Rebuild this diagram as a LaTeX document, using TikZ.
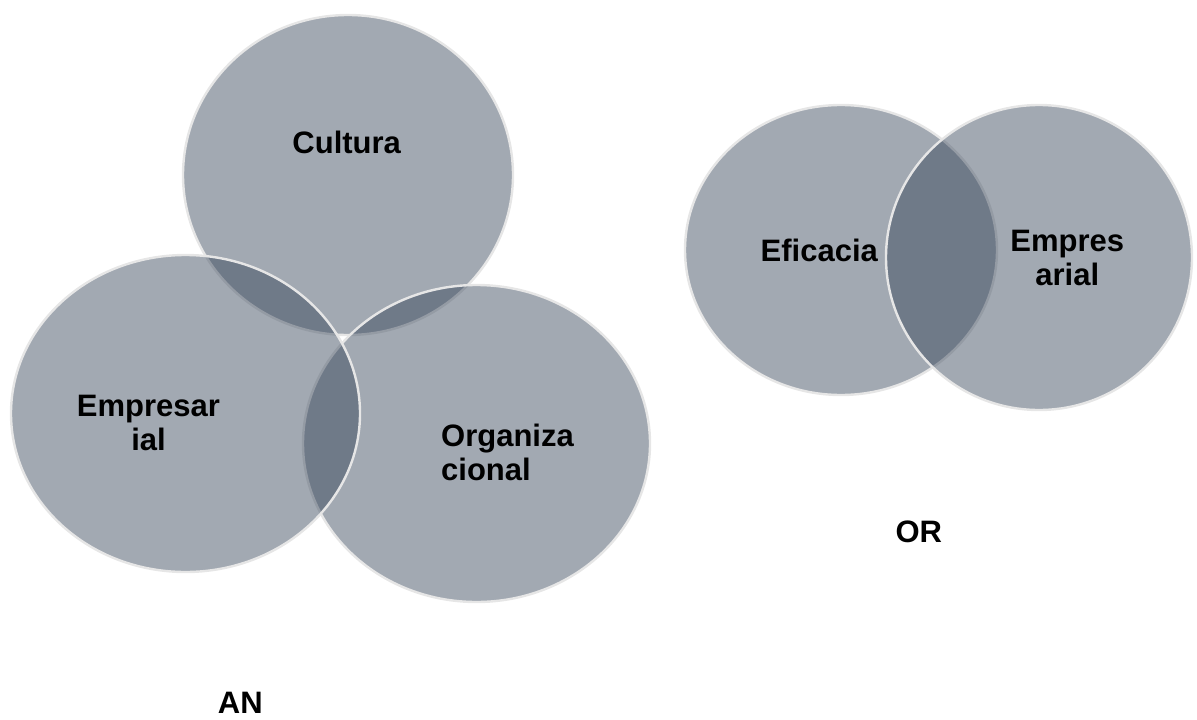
\documentclass[tikz,border=0pt]{standalone}
\usepackage{fontspec}
\setmainfont{Liberation Sans}
\begin{document}
\definecolor{venn}{HTML}{314055}
\definecolor{rim}{HTML}{E6E6E6}
\tikzset{
  blob/.style={fill=venn, fill opacity=0.45, draw=rim, line width=2.4pt},
  lbl/.style={font=\fontsize{31}{34}\selectfont\bfseries, inner sep=0pt, anchor=base},
}
\renewcommand\arraystretch{1}
\begin{tikzpicture}[x=1pt,y=-1pt]
  \path[use as bounding box] (0,0) rectangle (1197,720);

  % three-set diagram
  \path[blob] (348,175) ellipse [x radius=165, y radius=160];
  \path[blob] (476.5,443.5) ellipse [x radius=173.5, y radius=158.5];
  \path[blob] (185.5,413.5) ellipse [x radius=174.5, y radius=158.5];

  % two-set diagram
  \path[blob] (841,250) ellipse [x radius=156, y radius=145];
  \path[blob] (1039,257.5) ellipse [x radius=153, y radius=152.5];

  % labels
  \node[lbl] (cultura) at (346.7,153.3) {Cultura};
  \node[lbl] (empresarial) at (148.5,416.7)
    {\begin{tabular}[t]{@{}c@{}}Empresar\\ial\end{tabular}};
  \node[lbl, anchor=base west] (organizacional) at (441,446.7)
    {\begin{tabular}[t]{@{}l@{}}Organiza\\cional\end{tabular}};
  \node[lbl] (eficacia) at (819.3,261.7) {Eficacia};
  \node[lbl] (empresarial2) at (1067.3,251.7)
    {\begin{tabular}[t]{@{}c@{}}Empres\\arial\end{tabular}};
  \node[lbl] (or) at (918.8,542.3) {OR};
  \node[lbl] (an) at (240.3,713) {AN};
\end{tikzpicture}
\end{document}
